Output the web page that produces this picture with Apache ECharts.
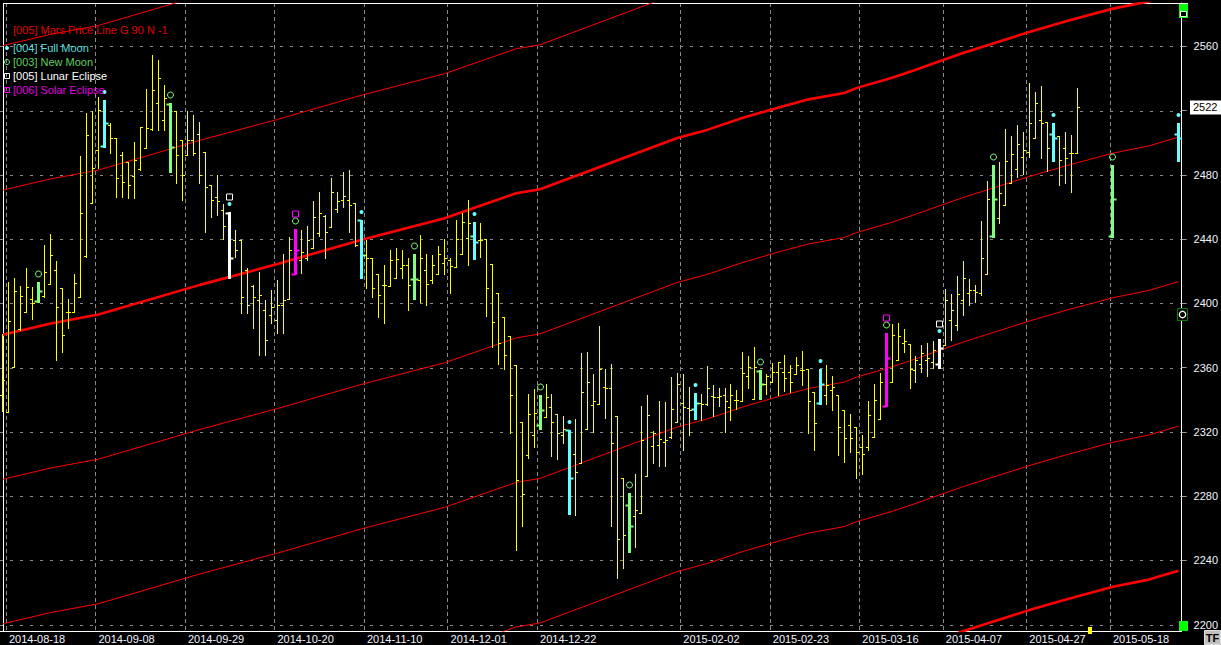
<!DOCTYPE html>
<html><head><meta charset="utf-8">
<script src="https://cdn.jsdelivr.net/npm/echarts@6/dist/echarts.min.js"></script>
<style>html,body{margin:0;padding:0;background:#000;}#c{width:1221px;height:645px;}</style>
</head><body><div id="c"></div>
<script>
// ---- axis ticks ----
const tickIndex = [1, 16, 31, 46, 61, 75, 90, 114, 129, 144, 158, 172, 186];
const tickLabels = ['2014-08-18','2014-09-08','2014-09-29','2014-10-20','2014-11-10','2014-12-01','2014-12-22',
  '2015-02-02','2015-02-23','2015-03-16','2015-04-07','2015-04-27','2015-05-18'];
const yTicks = [2200, 2240, 2280, 2320, 2360, 2400, 2440, 2480, 2520, 2560];
const yLabelValues = [2200, 2240, 2280, 2320, 2360, 2400, 2440, 2480, 2560];
const barCount = 198;

// ---- daily OHLC (bar 0 .. 180) ----
const barOpen = [2343,2332.5,2360.5,2384,2394.5,2402.5,2401.5,2404.5,2412,2421,2409.5,2394.5,2394.5,2404,2429.5,2462.5,2495.5,2498,2511,2503,
2492.5,2488,2479.5,2483.5,2496.5,2508.5,2525,2514,2524,2519.5,2501.5,2492.5,2501.5,2505.5,2494.5,2473.5,2466.5,2458,2456.5,2439.5,
2439.5,2421,2410.5,2402,2396,2393,2389.5,2399,2403,2418.5,2427,2428,2434.5,2444,2454.5,2447.5,2459,2464.5,2464.5,2462.5,
2452,2430,2428,2418.5,2411.5,2410.5,2415.5,2422,2424,2415,2414.5,2421,2414.5,2418.5,2425,2427,2422.5,2431,2440.5,2442,
2439.5,2440,2424.5,2406.5,2391.5,2379.5,2361.5,2326,2305.5,2318,2324.5,2329,2335.5,2331,2318,2321,2306,2300.5,2322,2336.5,
2337.5,2348,2347.5,2330,2291.5,2274.5,2267.5,2269.5,2292.5,2311,2311.5,2313.5,2317,2326,2338,2335,2334.5,2338,2337.5,2342.5,
2342,2343,2335.5,2340,2339,2354.5,2340.5,2358,2350,2351,2357.5,2357.5,2357,2356,2358.5,2359,2345,2338,2343,2346,
2343,2333.5,2324,2323,2310.5,2310.5,2316.5,2328,2336,2351,2365,2375.5,2374.5,2358.5,2362,2364.5,2363.5,2362,2374,2389.5,
2386.5,2402,2406.5,2408.5,2406.5,2418.5,2442,2453,2461,2475,2483.5,2491,2494,2503,2514,2513,2505.5,2504,2496.5,2493.5,2493.5];
const barHigh = [2381,2413.5,2416,2411,2422,2410,2413.5,2436.5,2443,2426.5,2409.5,2403,2418.5,2491.5,2518.5,2520,2528.5,2526.5,2512,2503,
2494.5,2488,2500.5,2510,2533.5,2554.5,2551.5,2536,2524.5,2519.5,2501.5,2519.5,2517.5,2513,2494.5,2473.5,2480,2462,2457,2445.5,
2439.5,2422,2411.5,2419.5,2402,2408.5,2414.5,2431,2441.5,2446.5,2445.5,2448,2463.5,2469.5,2455,2478,2469.5,2482,2483,2462.5,
2452,2439.5,2428,2418.5,2424,2433,2434.5,2433,2428,2431,2442.5,2431,2430,2435.5,2440,2428,2452,2456.5,2464.5,2450.5,
2450,2440,2424.5,2406.5,2391.5,2379.5,2361.5,2326,2343.5,2346.5,2343,2350,2343.5,2331,2330,2321,2328,2369,2369.5,2356,
2386,2359,2362.5,2330,2291.5,2282,2293.5,2336,2343,2320.5,2339,2338.5,2354,2356.5,2356,2348,2344,2343.5,2361,2349,
2347,2347.5,2350,2346,2369.5,2367,2373,2358.5,2356,2363,2363.5,2368,2361.5,2366.5,2370.5,2359,2345,2359,2361.5,2354.5,
2343,2333.5,2331,2323,2318,2339,2350,2356.5,2381.5,2387,2387.5,2384,2374.5,2367,2374,2375.5,2376.5,2378,2409,2406,
2417,2426.5,2415,2411.5,2451.5,2476,2486,2488,2508.5,2504,2511,2506.5,2537,2531.5,2535.5,2513,2512.5,2504,2506.5,2505,2534];
const barLow = [2333,2332.5,2360.5,2383.5,2394.5,2390.5,2401,2404,2412,2365,2370,2384.5,2394.5,2404,2429,2462.5,2484,2497.5,2493.5,2466.5,
2466.5,2465.5,2465.5,2483,2496.5,2508,2508,2508,2482,2475,2464.5,2492.5,2492.5,2475,2444.5,2454,2455,2440,2415.5,2429,
2394,2394,2384.5,2368,2368,2387.5,2381.5,2381.5,2403,2418.5,2419,2427,2434.5,2442,2428,2447.5,2457,2460,2444.5,2435.5,
2415.5,2409.5,2404,2391.5,2388,2410.5,2415.5,2415.5,2396,2402.5,2401,2399,2412.5,2418.5,2418.5,2406.5,2422.5,2431,2424,2427.5,
2429,2392,2373,2362.5,2359,2319,2246.5,2261.5,2303.5,2310.5,2322,2329,2305,2303,2313,2269,2268,2300.5,2322,2320,
2337.5,2328.5,2261.5,2229,2235,2245,2248,2269.5,2292.5,2300.5,2299,2299,2316,2326,2308.5,2318,2328,2327.5,2336.5,2330,
2336,2320,2327.5,2334.5,2339,2347.5,2340.5,2340.5,2343.5,2351,2343,2345.5,2345,2356,2349,2319,2308.5,2337.5,2337.5,2333.5,
2305.5,2301,2307.5,2291,2294,2308.5,2316.5,2328,2336,2351,2365,2369.5,2347,2351,2357.5,2354.5,2359.5,2360,2374,2377,
2383.5,2393,2399,2401,2405.5,2418.5,2441,2450,2461,2475,2478.5,2480.5,2491,2503,2490.5,2482.5,2488.5,2473.5,2475,2469.5,2493.5];
const barClose = [2352,2389,2407.5,2404.5,2410,2400,2407.5,2419.5,2430,2397.5,2380,2394.5,2412.5,2456,2505,2484,2520.5,2512,2503,2478,
2475.5,2473.5,2489.5,2509.5,2509,2533,2540,2528,2497.5,2492.5,2480,2501.5,2493.5,2480,2472.5,2464.5,2463.5,2448,2428.5,2433,
2404,2399,2404,2405,2377,2398,2399,2402,2433,2433,2432,2439.5,2454,2456.5,2444.5,2469.5,2463.5,2467,2461,2436.5,
2430,2428,2409.5,2405,2411.5,2427,2427.5,2424,2411.5,2415,2428,2412,2424,2431,2428,2423,2440,2450.5,2450,2438,
2439.5,2409.5,2388.5,2375.5,2368,2343,2290,2281.5,2331,2331.5,2333.5,2341.5,2326,2319,2321.5,2291,2295,2344.5,2351,2339,
2359,2347,2313,2253.5,2256,2261.5,2271.5,2315,2330.5,2319,2315.5,2315,2334.5,2349.5,2335.5,2333.5,2338,2337.5,2347.5,2341.5,
2342.5,2339.5,2343,2340,2356.5,2360.5,2360.5,2350,2354.5,2357.5,2363.5,2353.5,2351,2361.5,2358.5,2339,2325.5,2350,2349,2348,
2323,2316,2316,2307.5,2306,2330.5,2340,2351,2366,2380.5,2379.5,2376.5,2359,2364.5,2369,2366,2371,2372,2402,2396,
2406,2415.5,2408.5,2407,2428.5,2465,2465,2469,2488.5,2493,2499,2495.5,2512,2525,2512,2496.5,2503,2489.5,2490.5,2493.5,2522];

// ---- projected moon bars drawn in the future area ----
const projIndex = [186, 197];
const projOpen = [2442, 2505.5];
const projHigh = [2486, 2512.5];
const projLow = [2441, 2488.5];
const projClose = [2465, 2503];

// ---- moon / eclipse events (bar index, event type) ----
const eventIndex = [6, 17, 28, 38, 49, 60, 69, 79, 90, 95, 105, 116, 127, 137, 148, 157, 166, 176, 186, 197];
const eventType = ['NM','FM','NM','LE','SE','FM','NM','FM','NM','FM','NM','FM','NM','FM','SE','LE','NM','FM','NM','FM'];

// ---- Mars price line (base harmonic) read at bar indices; harmonics every 90 ----
const marsIndex = [0, 8, 16, 33, 46, 60, 74, 86, 90, 113, 118, 124, 130, 135, 141, 143, 149, 153, 156, 161, 172, 178, 186, 192, 197];
const marsBase = [2380.5, 2387.5, 2393, 2411.5, 2424.5, 2439.5, 2453, 2468.5, 2471, 2503, 2508, 2515.5, 2522, 2527, 2531, 2534, 2540.5, 2545.5, 2549.5, 2556, 2569, 2575.5, 2583.5, 2588, 2593.5];
const marsHarmonics = [-360, -270, -180, -90, 0, 90, 180];
const marsThick = [-360, 0];
const lastPrice = 2522;

// ---------------------------------------------------------------
const categories = Array.from({ length: barCount }, (_, i) => i);
const eventOf = {};
eventIndex.forEach((j, k) => { eventOf[j] = eventType[k]; });

const barData = [];
barOpen.forEach((o, i) => barData.push([i, o, barHigh[i], barLow[i], barClose[i]]));
projIndex.forEach((j, k) => barData.push([j, projOpen[k], projHigh[k], projLow[k], projClose[k]]));

const COL = { FM: '#66ffff', NM: '#80ff80', LE: '#ffffff', SE: '#ff00ff' };

function renderBar(params, api) {
  const i = api.value(0);
  const ev = eventOf[i];
  const pH = api.coord([i, api.value(2)]);
  const pL = api.coord([i, api.value(3)]);
  const pO = api.coord([i, api.value(1)]);
  const pC = api.coord([i, api.value(4)]);
  const x = Math.floor(pH[0]) + 0.5;
  const yh = Math.round(pH[1]), yl = Math.round(pL[1]);
  const yo = Math.round(pO[1]) + 0.5, yc = Math.round(pC[1]) + 0.5;
  const children = [];
  if (!ev) {
    const st = { stroke: '#ffff00', lineWidth: 1 };
    children.push({ type: 'line', shape: { x1: x, y1: yh, x2: x, y2: yl + 1 }, style: st });
    children.push({ type: 'line', shape: { x1: x - 2.5, y1: yo, x2: x, y2: yo }, style: st });
    children.push({ type: 'line', shape: { x1: x, y1: yc, x2: x + 2.5, y2: yc }, style: st });
  } else {
    const col = COL[ev];
    const st = { stroke: col, lineWidth: 3 };
    const st2 = { stroke: col, lineWidth: 2 };
    children.push({ type: 'line', shape: { x1: x, y1: yh, x2: x, y2: yl + 1 }, style: st });
    children.push({ type: 'line', shape: { x1: x - 4, y1: yo, x2: x, y2: yo }, style: st2 });
    children.push({ type: 'line', shape: { x1: x, y1: yc, x2: x + 4, y2: yc }, style: st2 });
    const m1 = yh - 8, m2 = yh - 15;
    const dot = (yy) => ({ type: 'circle', shape: { cx: x, cy: yy, r: 2 }, style: { fill: '#66ffff' } });
    const ring = (yy) => ({ type: 'circle', shape: { cx: x, cy: yy, r: 3 }, style: { fill: 'none', stroke: '#80ff80', lineWidth: 1 } });
    const sq = (yy, c) => ({ type: 'rect', shape: { x: x - 3, y: yy - 3, width: 6, height: 6 }, style: { fill: 'none', stroke: c, lineWidth: 1 } });
    if (ev === 'FM') children.push(dot(m1));
    if (ev === 'NM') children.push(ring(m1));
    if (ev === 'LE') { children.push(dot(m1)); children.push(sq(m2, '#ffffff')); }
    if (ev === 'SE') { children.push(ring(m1)); children.push(sq(m2, '#ff00ff')); }
  }
  return { type: 'group', children };
}

function renderGrid(params, api) {
  const cs = params.coordSys;
  const y = Math.round(api.coord([0, api.value(1)])[1]) + 0.5;
  return { type: 'line', shape: { x1: cs.x, y1: y, x2: cs.x + cs.width, y2: y },
    style: { stroke: '#8a8a8a', lineWidth: 1, lineDash: [3, 7] } };
}

const FONT = '"Liberation Sans", Arial, sans-serif';
const isTick = (idx) => tickIndex.indexOf(idx) >= 0;

const marsSeries = marsHarmonics.map((off) => ({
  type: 'line',
  data: marsIndex.map((j, k) => [j, marsBase[k] + off]),
  symbol: 'none', showSymbol: false, silent: true, z: 2,
  clip: true,
  lineStyle: { color: '#ff0000', width: marsThick.indexOf(off) >= 0 ? 2.6 : 1 }
}));

const legendItems = [
  { text: '[005] Mars Price Line G 90 N -1', color: '#e00000', y: 30, icon: null },
  { text: '[004] Full Moon', color: '#55dede', y: 48, icon: 'dot' },
  { text: '[003] New Moon', color: '#5ccf5c', y: 62, icon: 'ring' },
  { text: '[005] Lunar Eclipse', color: '#ffffff', y: 76, icon: 'sqw' },
  { text: '[006] Solar Eclipse', color: '#e000e0', y: 90, icon: 'sqm' }
];
const graphics = [];
legendItems.forEach((it) => {
  graphics.push({ type: 'text', x: 13, y: it.y, style: { text: it.text, fill: it.color, fontSize: 11, fontFamily: FONT, verticalAlign: 'middle' }, z: 20 });
  if (it.icon === 'dot') graphics.push({ type: 'circle', shape: { cx: 7, cy: it.y, r: 2 }, style: { fill: '#66ffff' }, z: 20 });
  if (it.icon === 'ring') graphics.push({ type: 'circle', shape: { cx: 7, cy: it.y, r: 2.5 }, style: { fill: 'none', stroke: '#80ff80' }, z: 20 });
  if (it.icon === 'sqw') graphics.push({ type: 'rect', shape: { x: 4.5, y: it.y - 2.5, width: 5, height: 5 }, style: { fill: 'none', stroke: '#ffffff' }, z: 20 });
  if (it.icon === 'sqm') graphics.push({ type: 'rect', shape: { x: 4.5, y: it.y - 2.5, width: 5, height: 5 }, style: { fill: 'none', stroke: '#ff00ff' }, z: 20 });
});
// frame & small widgets
graphics.push({ type: 'line', shape: { x1: 3.5, y1: 3, x2: 3.5, y2: 631 }, style: { stroke: '#ffffff', lineWidth: 1 }, z: 1 });
graphics.push({ type: 'line', shape: { x1: 3.5, y1: 3.5, x2: 1188, y2: 3.5 }, style: { stroke: '#ffffff', lineWidth: 1 }, z: 1 });
graphics.push({ type: 'rect', shape: { x: 1179, y: 4, width: 9, height: 14 }, style: { fill: '#00ff00' }, z: 20 });
graphics.push({ type: 'rect', shape: { x: 1180.5, y: 11.5, width: 6, height: 5 }, style: { fill: '#000000', stroke: '#ffffff' }, z: 21 });
graphics.push({ type: 'rect', shape: { x: 1179, y: 621, width: 9, height: 10 }, style: { fill: '#00ff00' }, z: 20 });
graphics.push({ type: 'rect', shape: { x: 1177.5, y: 308.5, width: 10, height: 12 }, style: { fill: '#000000', stroke: '#008000' }, z: 20 });
graphics.push({ type: 'circle', shape: { cx: 1182.5, cy: 314.5, r: 3.2 }, style: { fill: 'none', stroke: '#ffffff', lineWidth: 1.3 }, z: 21 });
graphics.push({ type: 'rect', shape: { x: 1088, y: 627, width: 4, height: 7 }, style: { fill: '#ffff00' }, z: 20 });
graphics.push({ type: 'rect', shape: { x: 1204.5, y: 630.5, width: 16, height: 14 }, style: { fill: '#c0c0c0', stroke: '#e0e0e0' }, z: 20 });
graphics.push({ type: 'text', x: 1212.5, y: 638, style: { text: 'TF', fill: '#000000', fontSize: 11, fontWeight: 'bold', fontFamily: FONT, align: 'center', verticalAlign: 'middle' }, z: 21 });

const chart = echarts.init(document.getElementById('c'), null, { renderer: 'svg' });
chart.setOption({
  backgroundColor: '#000000',
  animation: false,
  grid: { left: 0, right: 33, top: 3, bottom: 14, containLabel: false },
  xAxis: {
    type: 'category', data: categories, boundaryGap: true,
    axisLine: { show: true, lineStyle: { color: '#ffffff', width: 1 } },
    axisTick: { show: false },
    axisLabel: { interval: (idx) => isTick(idx), formatter: (v, idx) => tickLabels[tickIndex.indexOf(Number(v))] || '',
      color: '#f0f4ff', fontSize: 11, fontFamily: FONT, align: 'left', margin: 2 },
    splitLine: { show: true, interval: (idx) => isTick(idx), lineStyle: { color: '#8a8a8a', width: 1, type: [4, 3] } }
  },
  yAxis: {
    type: 'value', position: 'right', min: 2196, max: 2587, scale: true,
    axisLine: { show: true, lineStyle: { color: '#ffffff', width: 1 } },
    axisTick: { show: true, customValues: yTicks, length: 5, lineStyle: { color: '#a0a0a0' } },
    axisLabel: { customValues: yLabelValues, formatter: (v) => String(Math.round(v)), color: '#f0f4ff', fontSize: 11, fontFamily: FONT, margin: 12 },
    splitLine: { show: false }
  },
  series: [
    { type: 'custom', name: 'grid', data: yTicks.map((v) => [0, v]), encode: { x: 0, y: 1 }, renderItem: renderGrid, silent: true, z: 0, clip: false },
    ...marsSeries,
    { type: 'custom', name: 'ohlc', data: barData, encode: { x: 0, y: [1, 2, 3, 4] }, renderItem: renderBar, silent: true, z: 5, clip: true }
  ]
});
// last-price tag placed through the y scale
const priceY = chart.convertToPixel({ yAxisIndex: 0 }, lastPrice);
graphics.push({ type: 'text', x: 1190, y: priceY, style: { text: String(lastPrice), fill: '#000000', backgroundColor: '#ffffff',
  padding: [2, 5, 1, 3], fontSize: 11, fontFamily: FONT, verticalAlign: 'middle' }, z: 30 });
chart.setOption({ graphic: graphics });
</script>
</body></html>
